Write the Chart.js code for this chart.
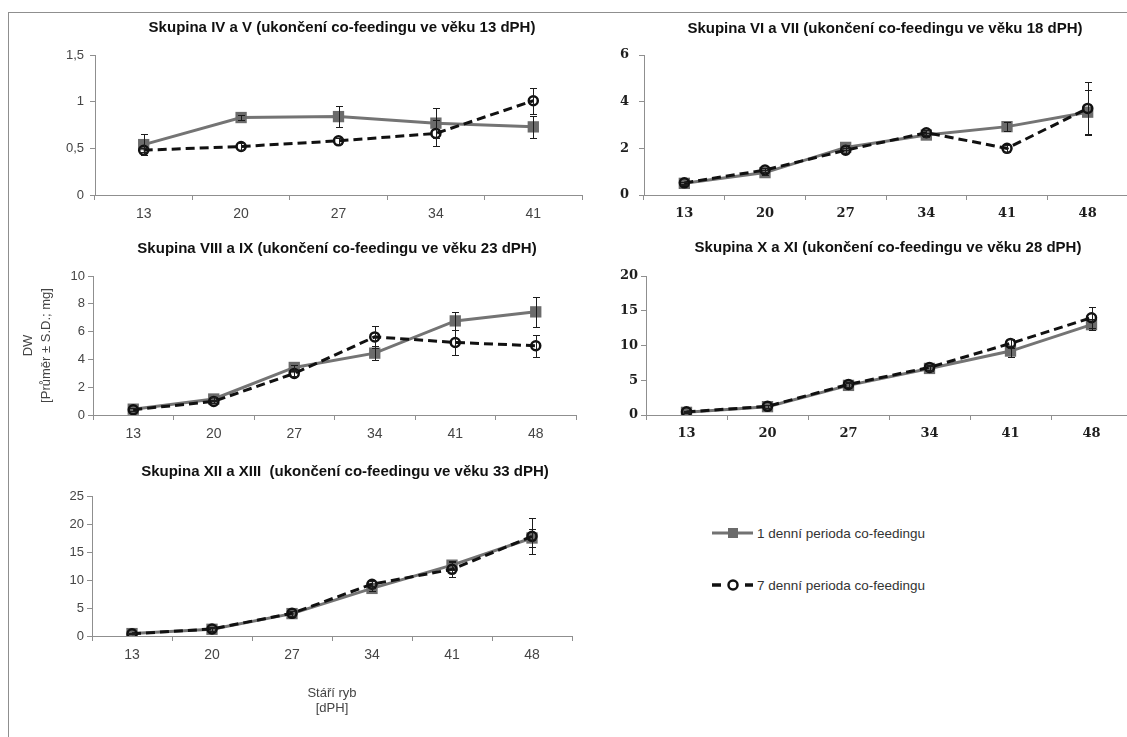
<!DOCTYPE html>
<html>
<head>
<meta charset="utf-8">
<script src="https://cdn.jsdelivr.net/npm/chart.js@4"></script>
<style>
  html, body { margin: 0; padding: 0; background: #fff; }
  body { width: 1127px; height: 737px; overflow: hidden; position: relative;
         font-family: "Liberation Sans", Arial, sans-serif; }
  #frame { position: absolute; left: 8px; top: 12px; width: 1300px; height: 900px;
           border-left: 1px solid #8f8f8f; border-top: 1px solid #8f8f8f; }
  canvas.panel { position: absolute; }
  .legend-item { position: absolute; left: 712px; height: 16px; display: flex; align-items: center;
                 font-size: 13.5px; color: #333; white-space: nowrap; }
  .legend-item svg { display: block; }
</style>
</head>
<body>
<div id="frame"></div>

<div class="legend-item" style="top:525px">
  <svg width="45" height="16" viewBox="0 0 45 16">
    <line x1="0" y1="8" x2="41" y2="8" stroke="#727272" stroke-width="3"/>
    <rect x="16" y="3" width="10" height="10" fill="#6b6b6b"/>
  </svg><span>1 denní perioda co-feedingu</span>
</div>
<div class="legend-item" style="top:577px">
  <svg width="45" height="16" viewBox="0 0 45 16">
    <line x1="0" y1="8" x2="9" y2="8" stroke="#111" stroke-width="3.5"/>
    <line x1="33" y1="8" x2="41" y2="8" stroke="#111" stroke-width="3.5"/>
    <circle cx="21" cy="8" r="4.5" fill="#fff" stroke="#111" stroke-width="2.5"/>
  </svg><span>7 denní perioda co-feedingu</span>
</div>

<script>
// Sampling days (dPH)
const days5 = ['13', '20', '27', '34', '41'];
const days6 = ['13', '20', '27', '34', '41', '48'];

// Skupina IV a V
const g1Day1   = [0.54, 0.83, 0.84, 0.77, 0.73];
const g1Day1Sd = [0.11, 0.03, 0.11, 0.16, 0.12];
const g1Day7   = [0.48, 0.52, 0.58, 0.66, 1.01];
const g1Day7Sd = [0.02, 0.04, 0.03, 0.14, 0.14];

// Skupina VI a VII
const g2Day1   = [0.50, 0.96, 2.04, 2.57, 2.93, 3.55];
const g2Day1Sd = [0.05, 0.10, 0.12, 0.10, 0.20, 0.93];
const g2Day7   = [0.52, 1.07, 1.92, 2.67, 2.00, 3.71];
const g2Day7Sd = [0.05, 0.10, 0.10, 0.10, 0.15, 1.12];

// Skupina VIII a IX
const g3Day1   = [0.42, 1.15, 3.42, 4.45, 6.77, 7.42];
const g3Day1Sd = [0.10, 0.15, 0.20, 0.50, 0.65, 1.08];
const g3Day7   = [0.38, 0.98, 2.99, 5.62, 5.22, 4.98];
const g3Day7Sd = [0.10, 0.10, 0.20, 0.77, 0.90, 0.78];

// Skupina X a XI
const g4Day1   = [0.38, 1.20, 4.26, 6.70, 9.20, 13.0];
const g4Day1Sd = [0.10, 0.20, 0.30, 0.40, 0.80, 0.80];
const g4Day7   = [0.45, 1.25, 4.40, 6.85, 10.3, 14.0];
const g4Day7Sd = [0.10, 0.20, 0.30, 0.40, 0.70, 1.50];

// Skupina XII a XIII
const g5Day1   = [0.43, 1.20, 4.00, 8.50, 12.65, 17.5];
const g5Day1Sd = [0.10, 0.30, 0.40, 0.50, 0.80, 1.60];
const g5Day7   = [0.40, 1.25, 4.05, 9.25, 11.9, 17.8];
const g5Day7Sd = [0.10, 0.30, 0.40, 0.60, 1.35, 3.20];

const titles = [
  'Skupina IV a V (ukončení co-feedingu ve věku 13 dPH)',
  'Skupina VI a VII (ukončení co-feedingu ve věku 18 dPH)',
  'Skupina VIII a IX (ukončení co-feedingu ve věku 23 dPH)',
  'Skupina X a XI (ukončení co-feedingu ve věku 28 dPH)',
  'Skupina XII a XIII  (ukončení co-feedingu ve věku 33 dPH)'
];
const yTitle = ['DW', '[Průměr ± S.D.; mg]'];
const xTitle = ['Stáří ryb', '[dPH]'];
const seriesNames = ['1 denní perioda co-feedingu', '7 denní perioda co-feedingu'];

// Vertical mean ± SD whiskers, placed with the chart's own scales
const errorBars = {
  id: 'errorBars',
  afterDatasetsDraw(chart) {
    const ctx = chart.ctx;
    const ys = chart.scales.y;
    chart.data.datasets.forEach((ds, di) => {
      if (!ds.sd) return;
      const meta = chart.getDatasetMeta(di);
      ctx.save();
      ctx.strokeStyle = '#1c1c1c';
      ctx.lineWidth = 1;
      meta.data.forEach((pt, i) => {
        const v = ds.data[i], e = ds.sd[i];
        const x = Math.round(pt.x) + 0.5;
        const top = Math.round(ys.getPixelForValue(v + e)) + 0.5;
        const bot = Math.round(ys.getPixelForValue(v - e)) + 0.5;
        ctx.beginPath();
        ctx.moveTo(x, top); ctx.lineTo(x, bot);
        ctx.moveTo(x - 3.5, top); ctx.lineTo(x + 3.5, top);
        ctx.moveTo(x - 3.5, bot); ctx.lineTo(x + 3.5, bot);
        ctx.stroke();
      });
      ctx.restore();
    });
  }
};

// Panel heading drawn above the plot area
const panelTitle = {
  id: 'panelTitle',
  afterDraw(chart, args, o) {
    const a = chart.chartArea;
    const ctx = chart.ctx;
    ctx.save();
    ctx.font = o.font;
    ctx.fillStyle = o.color;
    ctx.textAlign = 'center';
    ctx.textBaseline = 'middle';
    ctx.fillText(o.text, (a.left + a.right) / 2 + o.dx, a.top + o.dy);
    ctx.restore();
  }
};

const axisColor = '#8f8f8f';
const sansTick = { family: '"Liberation Sans", Arial, sans-serif', size: 13 };
const serifTick = { family: '"DejaVu Serif", serif', size: 13, weight: 'bold' };

function makePanel(cfg) {
  const { area, labels, day1, day1Sd, day7, day7Sd, max, step, title, serif, comma,
          dx, dy, yPad, axisW, xAxisH, withYTitle, withXTitle } = cfg;
  const cx = area.l - axisW;
  const cy = area.t - 50;
  const cw = area.r + 10 - cx;
  const ch = area.b + xAxisH - cy;

  const canvas = document.createElement('canvas');
  canvas.className = 'panel';
  canvas.width = cw;
  canvas.height = ch;
  canvas.style.left = cx + 'px';
  canvas.style.top = cy + 'px';
  canvas.style.width = cw + 'px';
  canvas.style.height = ch + 'px';
  document.body.appendChild(canvas);

  const tickFontY = serif ? serifTick : sansTick;
  const tickFontX = serif ? serifTick : { ...sansTick, size: 14 };
  const tickColor = serif ? '#1e1e1e' : '#454545';

  new Chart(canvas, {
    type: 'line',
    data: {
      labels: labels,
      datasets: [
        {
          label: seriesNames[1],
          data: day7,
          sd: day7Sd,
          order: 0,
          borderColor: '#111',
          borderWidth: 3,
          borderDash: [9, 5],
          pointStyle: 'circle',
          pointRadius: 4.5,
          pointBorderWidth: 2.5,
          pointBorderColor: '#111',
          pointBackgroundColor: 'rgba(255,255,255,0)',
          tension: 0,
          fill: false
        },
        {
          label: seriesNames[0],
          data: day1,
          sd: day1Sd,
          order: 1,
          borderColor: '#747474',
          borderWidth: 3,
          pointStyle: 'rect',
          pointRadius: 8,
          pointBorderWidth: 0,
          pointBackgroundColor: '#6b6b6b',
          pointBorderColor: '#6b6b6b',
          tension: 0,
          fill: false
        }
      ]
    },
    options: {
      responsive: false,
      animation: false,
      devicePixelRatio: 1,
      layout: { padding: { top: 50, right: 10, left: 0, bottom: 0 } },
      plugins: {
        legend: { display: false },
        tooltip: { enabled: false },
        title: { display: false },
        panelTitle: {
          text: title, dx: dx, dy: dy, color: '#111',
          font: 'bold 15px "Liberation Sans", Arial, sans-serif'
        }
      },
      scales: {
        x: {
          type: 'category',
          offset: true,
          grid: { offset: true, drawOnChartArea: false, drawTicks: true, tickLength: 5, color: axisColor },
          border: { display: true, color: axisColor, width: 1 },
          ticks: { font: tickFontX, color: tickColor, padding: 6, maxRotation: 0 },
          title: withXTitle ? {
            display: true, text: xTitle, color: '#444',
            font: { family: '"Liberation Sans", Arial, sans-serif', size: 13, lineHeight: '15px' },
            padding: { top: 0, bottom: 0 }
          } : { display: false },
          afterFit(s) { s.height = xAxisH; }
        },
        y: {
          min: 0, max: max,
          grid: { drawOnChartArea: false, drawTicks: true, tickLength: 5, color: axisColor },
          border: { display: true, color: axisColor, width: 1 },
          ticks: {
            stepSize: step, font: tickFontY, color: tickColor, padding: yPad,
            callback: (v) => comma ? String(v).replace('.', ',') : String(v)
          },
          title: withYTitle ? {
            display: true, text: yTitle, color: '#444',
            font: { family: '"Liberation Sans", Arial, sans-serif', size: 13, lineHeight: '18px' },
            padding: { top: 9, bottom: 0 }
          } : { display: false },
          afterFit(s) { s.width = axisW; }
        }
      }
    },
    plugins: [errorBars, panelTitle]
  });
}

makePanel({ area: { l: 95, r: 582, t: 55, b: 195 }, labels: days5,
  day1: g1Day1, day1Sd: g1Day1Sd, day7: g1Day7, day7Sd: g1Day7Sd,
  max: 1.5, step: 0.5, title: titles[0], serif: false, comma: true,
  dx: 3.5, dy: -27, yPad: 6, axisW: 90, xAxisH: 45 });

makePanel({ area: { l: 644, r: 1128, t: 55, b: 195 }, labels: days6,
  day1: g2Day1, day1Sd: g2Day1Sd, day7: g2Day7, day7Sd: g2Day7Sd,
  max: 6, step: 2, title: titles[1], serif: true, comma: false,
  dx: -1, dy: -26, yPad: 10, axisW: 90, xAxisH: 45 });

makePanel({ area: { l: 93, r: 576, t: 276, b: 415 }, labels: days6,
  day1: g3Day1, day1Sd: g3Day1Sd, day7: g3Day7, day7Sd: g3Day7Sd,
  max: 10, step: 2, title: titles[2], serif: false, comma: false,
  dx: 2.5, dy: -27, yPad: 3, axisW: 83, xAxisH: 45, withYTitle: true });

makePanel({ area: { l: 646, r: 1132, t: 276, b: 415 }, labels: days6,
  day1: g4Day1, day1Sd: g4Day1Sd, day7: g4Day7, day7Sd: g4Day7Sd,
  max: 20, step: 5, title: titles[3], serif: true, comma: false,
  dx: -1, dy: -28, yPad: 3, axisW: 90, xAxisH: 45 });

makePanel({ area: { l: 92, r: 572, t: 496, b: 636 }, labels: days6,
  day1: g5Day1, day1Sd: g5Day1Sd, day7: g5Day7, day7Sd: g5Day7Sd,
  max: 25, step: 5, title: titles[4], serif: false, comma: false,
  dx: 13, dy: -24, yPad: 3, axisW: 90, xAxisH: 80, withXTitle: true });
</script>
</body>
</html>
